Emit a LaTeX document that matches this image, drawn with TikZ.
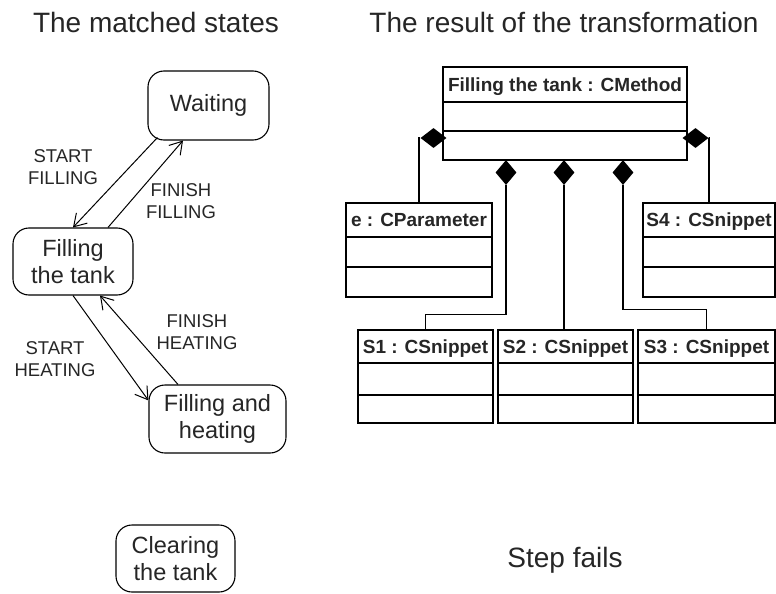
\documentclass[tikz,border=0pt]{standalone}
\usepackage{fontspec}
\setmainfont{Liberation Sans}
\usetikzlibrary{arrows.meta,shapes.geometric,fit,calc}

\tikzset{
  state/.style={draw, rounded corners=16pt, line width=1.1pt, inner sep=0pt,
    align=center, font=\fontsize{23.5}{27}\selectfont, text=black!85},
  trans/.style={line width=1pt, -{Straight Barb[length=12pt,width=15pt,line width=1pt]}},
  evlabel/.style={align=center, font=\fontsize{18.5}{22}\selectfont, text=black!85},
  heading/.style={font=\fontsize{28}{34}\selectfont, text=black!85, anchor=base},
  umlbox/.style={draw, line width=1.2pt, inner sep=0pt},
  umltitle/.style={font=\bfseries\fontsize{19}{22}\selectfont, text=black!85, anchor=base},
  comp/.style={diamond, fill=black, draw=none, inner sep=0pt},
  link/.style={line width=1.2pt},
}

% class box: name, left, top, right, bottom, first divider, second divider, title
\newcommand{\umlclass}[8]{%
  \coordinate (#1-nw) at (#2,#3);
  \coordinate (#1-se) at (#4,#5);
  \node[umlbox, fit=(#1-nw)(#1-se)] (#1) {};
  \draw[link] (#2,#6) -- (#4,#6);
  \draw[link] (#2,#7) -- (#4,#7);
  \node[umltitle] (#1-title) at ({(#2+#4)/2},{(#3+#6)/2+6.5}) {#8};
}

\begin{document}
\begin{tikzpicture}[x=1pt, y=-1pt]
  \fill[white] (0,0) rectangle (776,594);
  \useasboundingbox (0,0) rectangle (776,594);

  % headings
  \node[heading] (h1) at (156,33) {The matched states};
  \node[heading] (h2) at (564,33) {The result of the transformation};
  \node[heading] (h3) at (565,567) {Step fails};

  % state machine
  \node[state, minimum width=121pt, minimum height=69pt] (wait) at (208.5,105.5) {Waiting};
  \node[state, minimum width=120pt, minimum height=67pt] (fill) at (73,261.5) {Filling\\the tank};
  \node[state, minimum width=137pt, minimum height=68pt] (heat) at (217.5,419) {Filling and\\heating};
  \node[state, minimum width=119pt, minimum height=67pt] (clear) at (175.5,558.5) {Clearing\\the tank};

  \draw[trans] ([xshift=10pt,yshift=3pt]wait.south west) -- (fill.north);
  \draw[trans] ([xshift=35pt]fill.north) -- ([xshift=-25.5pt]wait.south);
  \draw[trans] (fill.south) -- ([yshift=-16pt]heat.north west);
  \draw[trans] ([xshift=-39.5pt]heat.north) -- ([xshift=27pt]fill.south);

  \node[evlabel] (lsf) at (63,167) {START\\FILLING};
  \node[evlabel] (lff) at (181,201) {FINISH\\FILLING};
  \node[evlabel] (lfh) at (197,332) {FINISH\\HEATING};
  \node[evlabel] (lsh) at (55,359) {START\\HEATING};

  % object diagram
  \umlclass{cm}{443}{67}{687}{160}{102}{131}{Filling the tank : CMethod}
  \umlclass{e}{346}{203}{492}{297}{237}{267}{e : CParameter}
  \umlclass{s4}{643}{203}{775}{297}{237}{267}{S4 : CSnippet}
  \umlclass{s1}{358}{330}{493}{423}{363}{395}{S1 : CSnippet}
  \umlclass{s2}{498}{330}{633}{423}{363}{395}{S2 : CSnippet}
  \umlclass{s3}{638}{330}{775}{423}{363}{395}{S3 : CSnippet}

  % composition diamonds
  \node[comp, minimum width=26pt, minimum height=20pt] (dl) at (433.5,138) {};
  \node[comp, minimum width=26pt, minimum height=20pt] (dr) at (695.5,138) {};
  \node[comp, minimum width=21pt, minimum height=25pt] (d1) at (506,172.5) {};
  \node[comp, minimum width=21pt, minimum height=25pt] (d2) at (564,172.5) {};
  \node[comp, minimum width=21pt, minimum height=25pt] (d3) at (623,172.5) {};

  \draw[link] (dl.west) -| (e.north);
  \draw[link] (dr.east) -| (s4.north);
  \draw[link] (d1.south) |- ($(s1.north)+(0,-15)$) -- (s1.north);
  \draw[link] (d2.south) -- (d2.south |- s2.north);
  \draw[link] (d3.south) |- ($(s3.north)+(0,-20)$) -- (s3.north);
\end{tikzpicture}
\end{document}
